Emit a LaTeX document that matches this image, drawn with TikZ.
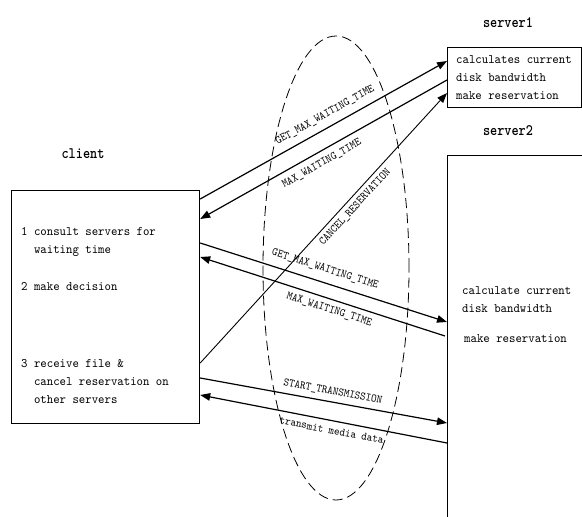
\documentclass[tikz,border=0pt]{standalone}
\usepackage{fontspec}
\usetikzlibrary{arrows.meta,calc}
\newfontfamily\cmono[FakeStretch=0.94]{lmmono10-regular.otf}
\newfontfamily\cmonolbl[FakeStretch=0.92]{lmmono10-regular.otf}
\newfontfamily\cmonobf[FakeStretch=0.85]{lmmonolt10-bold.otf}

\begin{document}
\begin{tikzpicture}[x=1pt,y=-1pt,
  box/.style={draw, line width=1.2pt, inner sep=0pt, anchor=north west},
  msg/.style={line width=1.2pt, -{Triangle[length=10pt,width=7.5pt]}},
  thinmsg/.style={line width=0.9pt, -{Triangle[length=10pt,width=7.5pt]}},
  lbl/.style={font=\cmonolbl\fontsize{11.5}{12}\selectfont, sloped, inner sep=1pt,
              text height=7.5pt, text depth=2pt},
  body/.style={font=\cmono\fontsize{13}{18}\selectfont, align=left,
               anchor=base west, inner sep=0pt},
  title/.style={font=\cmonobf\fontsize{16}{18}\selectfont, anchor=base,
                inner sep=0pt},
  zone/.style={line width=0.8pt, dash pattern=on 10pt off 5pt}
]
\useasboundingbox (0,0) rectangle (582,517);
\fill[white] (0,0) rectangle (582,517);
\clip (0,0) rectangle (582,517);

% network zone between client and servers
\draw[zone] (336,268) ellipse [x radius=73pt, y radius=232pt];

% boxes
\node[box, minimum width=188pt, minimum height=233pt] (client) at (11,190) {};
\node[box, minimum width=134pt, minimum height=60pt] (srv1) at (447,47) {};
\node[box, line width=1pt, minimum width=200pt, minimum height=420pt] (srv2) at (447,155) {};

% titles
\node[title] (tclient) at (83,158) {client};
\node[title] (tsrv1) at (508,27) {server1};
\node[title] (tsrv2) at (508,135) {server2};

% client steps (base = baseline of the last line)
\node[body] (c1) at (21,253.5) {1 consult servers for\\\ \ waiting time};
\node[body] (c2) at (21,290) {2 make decision};
\node[body] (c3) at (21,403) {3 receive file \&\\\ \ cancel reservation on\\\ \ other servers};

% server tasks
\node[body] (s1) at (456,99) {calculates current\\disk bandwidth\\make reservation};
\node[body] (s2a) at (462,312) {calculate current\\disk bandwidth};
\node[body] (s2b) at (464,342) {make reservation};

% messages with server1
\draw[msg] ($(client.north east)+(0,9)$) -- ($(srv1.north west)+(0,14)$)
  node[lbl, pos=0.53, above=6pt] (m1) {GET\_MAX\_WAITING\_TIME};
\draw[msg] ($(srv1.north west)+(0,33)$) -- ($(client.north east)+(0,29)$)
  node[lbl, pos=0.53, below=5pt] (m2) {MAX\_WAITING\_TIME};
\draw[thinmsg] ($(client.north east)+(0,173)$) -- ($(srv1.north west)+(0,46)$)
  node[lbl, pos=0.60, below=3pt] (m3) {CANCEL\_RESERVATION};

% messages with server2
\draw[msg] ($(client.north east)+(0,53)$) -- ($(srv2.north west)+(0,167)$)
  node[lbl, pos=0.49, above=7pt] (m4) {GET\_MAX\_WAITING\_TIME};
\draw[msg] ($(srv2.north west)+(-2,181)$) -- ($(client.north east)+(0,67)$)
  node[lbl, pos=0.46, below=4pt] (m5) {MAX\_WAITING\_TIME};
\draw[msg] ($(client.north east)+(0,188)$) -- ($(srv2.north west)+(0,268)$)
  node[lbl, pos=0.53, above=4pt] (m6) {START\_TRANSMISSION};
\draw[msg] ($(srv2.north west)+(0,288)$) -- ($(client.north east)+(0,205)$)
  node[lbl, pos=0.46, below=4pt] (m7) {transmit media data};
\end{tikzpicture}
\end{document}
